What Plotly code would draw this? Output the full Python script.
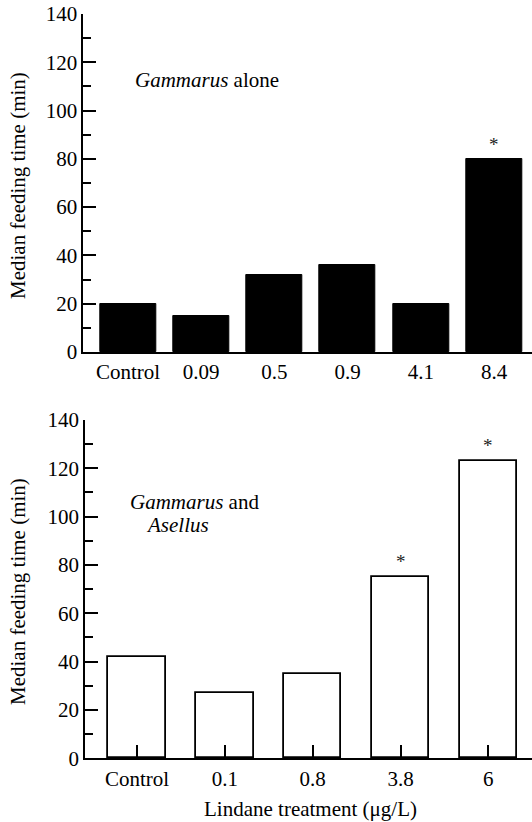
import plotly.graph_objects as go

# Feeding time of Gammarus at increasing lindane concentrations
alone_labels = ["Control", "0.09", "0.5", "0.9", "4.1", "8.4"]
alone_minutes = [20, 15, 32, 36, 20, 80]
alone_signif = [False, False, False, False, False, True]

mixed_labels = ["Control", "0.1", "0.8", "3.8", "6"]
mixed_minutes = [42, 27, 35, 75, 123]
mixed_signif = [False, False, False, True, True]

y_ticks = [0, 20, 40, 60, 80, 100, 120, 140]

W, H = 532, 822
FONT = "Liberation Serif"
FS = 21


def px_x(p):
    return p / W


def px_y(p):
    return 1 - p / H


fig = go.Figure()

fig.add_trace(go.Bar(
    x=list(range(len(alone_labels))), y=alone_minutes, width=0.765,
    marker=dict(color="black", line=dict(color="black", width=1)),
    xaxis="x", yaxis="y", showlegend=False, hoverinfo="skip",
))
fig.add_trace(go.Bar(
    x=list(range(len(mixed_labels))), y=mixed_minutes, width=0.655,
    marker=dict(color="white", line=dict(color="black", width=1.8)),
    xaxis="x2", yaxis="y2", showlegend=False, hoverinfo="skip",
))

common_y = dict(
    range=[0, 140], tickvals=y_ticks, ticks="inside", ticklen=13, tickwidth=1.5,
    showline=True, linecolor="black", linewidth=1.5, showgrid=False, zeroline=False,
    tickfont=dict(family=FONT, size=FS, color="black"),
    minor=dict(ticks="inside", ticklen=8, tickwidth=1.5, tickcolor="black",
               dtick=10, tick0=0, showgrid=False),
    tickcolor="black", fixedrange=True, automargin=False,
)
common_x = dict(
    ticks="inside", ticklen=13, tickwidth=1.5, tickcolor="black",
    showline=True, linecolor="black", linewidth=2, showgrid=False, zeroline=False,
    tickfont=dict(family=FONT, size=FS, color="black"), fixedrange=True,
    automargin=False,
)

fig.update_layout(
    template="none",
    width=W, height=H,
    margin=dict(l=0, r=0, t=0, b=0, pad=0),
    paper_bgcolor="white", plot_bgcolor="white",
    font=dict(family=FONT, size=FS, color="black"),
    xaxis=dict(common_x, domain=[px_x(83.3), 1], range=[-0.611, 5.519],
               tickvals=list(range(len(alone_labels))), ticktext=alone_labels,
               anchor="y"),
    yaxis=dict(common_y, domain=[px_y(352), px_y(14)], anchor="x"),
    xaxis2=dict(common_x, domain=[px_x(85), 1], range=[-0.592, 4.497],
                tickvals=list(range(len(mixed_labels))), ticktext=mixed_labels,
                anchor="y2"),
    yaxis2=dict(common_y, domain=[px_y(758.3), px_y(420)], anchor="x2"),
    bargap=0,
)

annotations = []
# significance markers above bars
for i, (v, s) in enumerate(zip(alone_minutes, alone_signif)):
    if s:
        annotations.append(dict(x=i, y=v, xref="x", yref="y", text="*",
                                showarrow=False, yanchor="bottom", yshift=2,
                                font=dict(family=FONT, size=19, color="#222")))
for i, (v, s) in enumerate(zip(mixed_minutes, mixed_signif)):
    if s:
        annotations.append(dict(x=i, y=v, xref="x2", yref="y2", text="*",
                                showarrow=False, yanchor="bottom", yshift=3,
                                font=dict(family=FONT, size=19, color="#222")))

# panel labels
annotations.append(dict(x=px_x(133), y=px_y(80), xref="paper", yref="paper",
                        text="<i>Gammarus</i> alone", showarrow=False,
                        xanchor="left", yanchor="middle"))
annotations.append(dict(x=px_x(128), y=px_y(502), xref="paper", yref="paper",
                        text="<i>Gammarus</i> and", showarrow=False,
                        xanchor="left", yanchor="middle"))
annotations.append(dict(x=px_x(144), y=px_y(525), xref="paper", yref="paper",
                        text="<i>Asellus</i>", showarrow=False,
                        xanchor="left", yanchor="middle"))

# axis titles
for yc in (186, 592):
    annotations.append(dict(x=px_x(18), y=px_y(yc), xref="paper", yref="paper",
                            text="Median feeding time (min)", textangle=-90,
                            showarrow=False, xanchor="center", yanchor="middle"))
annotations.append(dict(x=px_x(310), y=px_y(809), xref="paper", yref="paper",
                        text="Lindane treatment (\u03bcg/L)", showarrow=False,
                        xanchor="center", yanchor="middle", borderpad=0))

fig.update_layout(annotations=annotations)
fig.write_html("out.html")
